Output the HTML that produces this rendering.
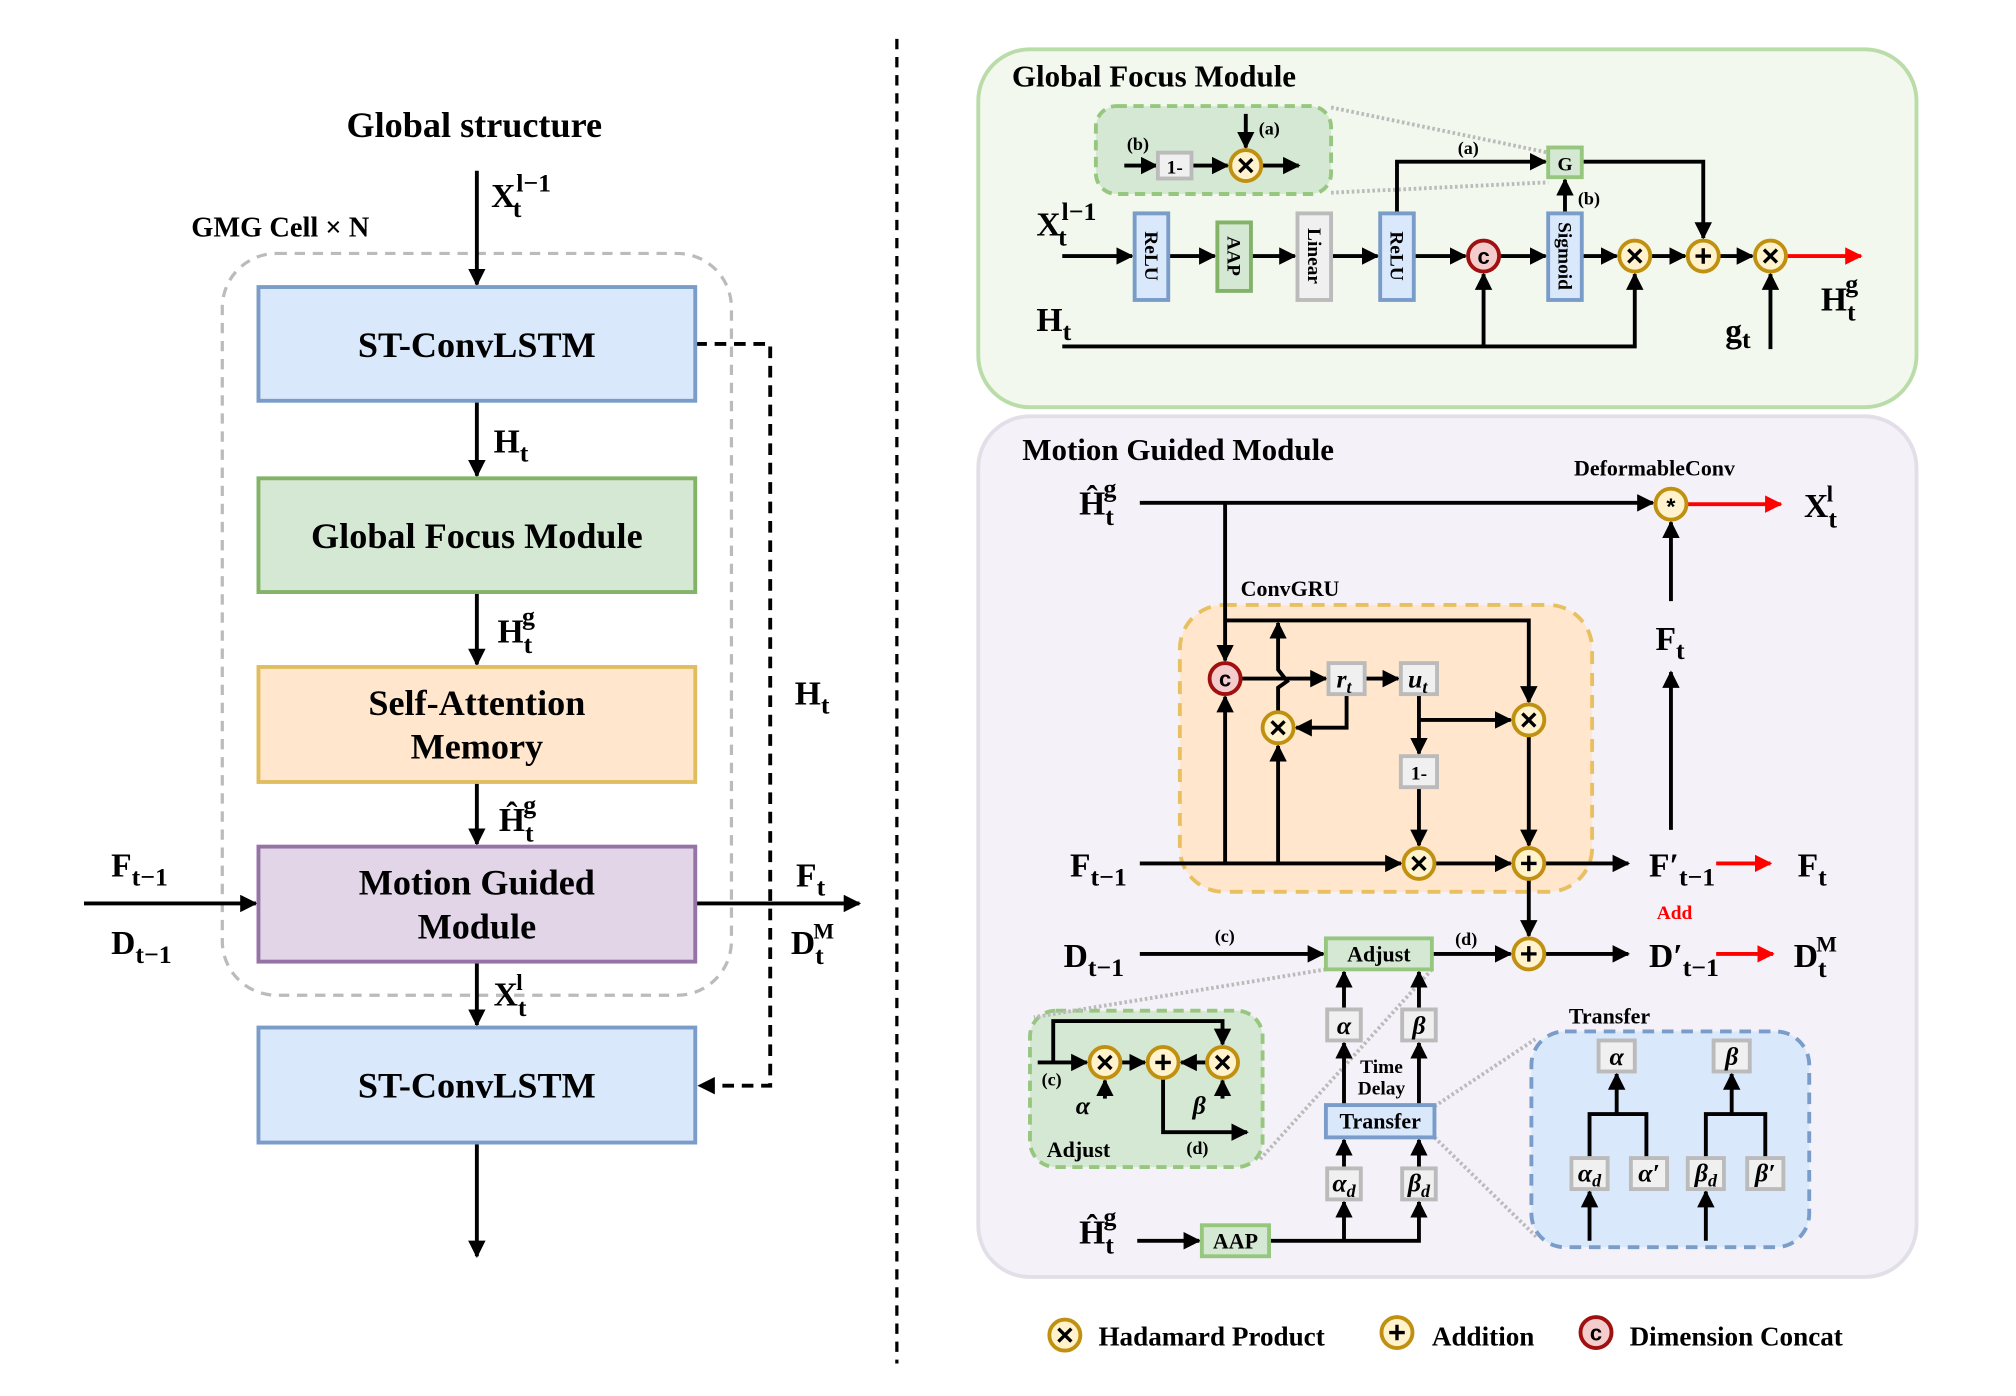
<!DOCTYPE html>
<html><head><meta charset="utf-8"><style>
html,body{margin:0;padding:0;background:#fff;}
svg{display:block;}
text{font-family:"Liberation Serif",serif;font-weight:bold;fill:#000;}
.s{font-family:"Liberation Sans",sans-serif;}
.i{font-style:italic;}
</style></head><body>
<svg width="2016" height="1396" viewBox="0 0 1560 1080" xmlns="http://www.w3.org/2000/svg">
<defs>
<marker id="a" viewBox="0 0 10 10" refX="9" refY="5" markerWidth="4.5" markerHeight="4.5" orient="auto-start-reverse" markerUnits="strokeWidth"><path d="M0,0L10,5L0,10z" fill="#000"/></marker>
<marker id="r" viewBox="0 0 10 10" refX="9" refY="5" markerWidth="4.5" markerHeight="4.5" orient="auto" markerUnits="strokeWidth"><path d="M0,0L10,5L0,10z" fill="#f00"/></marker>
<g id="mul"><circle r="12" fill="#fff2cc" stroke="#c09010" stroke-width="3"/><path d="M-5,-5L5,5M5,-5L-5,5" stroke="#000" stroke-width="2.6"/></g>
<g id="add"><circle r="12" fill="#fff2cc" stroke="#c09010" stroke-width="3"/><path d="M-6,0H6M0,-6V6" stroke="#000" stroke-width="2.6"/></g>
<g id="cat"><circle r="12" fill="#f4cccc" stroke="#a01010" stroke-width="3"/><text x="0" y="6" text-anchor="middle" font-size="17" class="s">c</text></g>
</defs>
<g stroke="#000" stroke-width="3" fill="none">
<!-- LEFT -->
<line x1="694" y1="30" x2="694" y2="1055" stroke-dasharray="8,6" stroke-width="2.5"/>
<rect x="172" y="196" width="394" height="574" rx="42" stroke="#bbb" stroke-width="2.5" stroke-dasharray="8,6"/>
<line x1="369" y1="132" x2="369" y2="220" marker-end="url(#a)"/>
<line x1="369" y1="310" x2="369" y2="368" marker-end="url(#a)"/>
<line x1="369" y1="458" x2="369" y2="514" marker-end="url(#a)"/>
<line x1="369" y1="605" x2="369" y2="653" marker-end="url(#a)"/>
<line x1="369" y1="744" x2="369" y2="793" marker-end="url(#a)"/>
<line x1="369" y1="884" x2="369" y2="972" marker-end="url(#a)"/>
<polyline points="538,266 596,266 596,840 541,840" stroke-dasharray="9,6" marker-end="url(#a)"/>
<line x1="65" y1="699" x2="198" y2="699" marker-end="url(#a)"/>
<line x1="538" y1="699" x2="665" y2="699" marker-end="url(#a)"/>
</g>
<rect x="200" y="222" width="338" height="88" fill="#dae8fc" stroke="#7a9cc8" stroke-width="3"/>
<rect x="200" y="370" width="338" height="88" fill="#d5e8d4" stroke="#82b366" stroke-width="3"/>
<rect x="200" y="516" width="338" height="89" fill="#ffe6cc" stroke="#e0be60" stroke-width="3"/>
<rect x="200" y="655" width="338" height="89" fill="#e1d5e7" stroke="#9673a6" stroke-width="3"/>
<rect x="200" y="795" width="338" height="89" fill="#dae8fc" stroke="#7a9cc8" stroke-width="3"/>
<g font-size="28" text-anchor="middle">
<text x="367" y="106">Global structure</text>
<text x="369" y="276">ST-ConvLSTM</text>
<text x="369" y="424">Global Focus Module</text>
<text x="369" y="553">Self-Attention</text><text x="369" y="587">Memory</text>
<text x="369" y="692">Motion Guided</text><text x="369" y="726">Module</text>
<text x="369" y="849">ST-ConvLSTM</text>
</g>
<text x="148" y="183" font-size="22">GMG Cell × N</text>
<g font-size="26">
<text x="380" y="160">X<tspan font-size="20" dy="8" dx="-2">t</tspan><tspan font-size="20" dy="-20" dx="-4">l−1</tspan></text>
<text x="382" y="350">H<tspan font-size="20" dy="7">t</tspan></text>
<text x="385" y="497">H<tspan font-size="20" dy="8">t</tspan><tspan font-size="20" dy="-22" dx="-8">g</tspan></text>
<text x="386" y="643">Ĥ<tspan font-size="20" dy="8">t</tspan><tspan font-size="20" dy="-22" dx="-8">g</tspan></text>
<text x="382" y="778">X<tspan font-size="20" dy="8">t</tspan><tspan font-size="18" dy="-20" dx="-8">l</tspan></text>
<text x="615" y="545">H<tspan font-size="20" dy="7">t</tspan></text>
<text x="86" y="678">F<tspan font-size="20" dy="7">t−1</tspan></text>
<text x="86" y="738">D<tspan font-size="20" dy="7">t−1</tspan></text>
<text x="616" y="686">F<tspan font-size="20" dy="7">t</tspan></text>
<text x="612" y="738">D<tspan font-size="20" dy="8">t</tspan><tspan font-size="17" dy="-20" dx="-8">M</tspan></text>
</g>

<!-- GFM -->
<rect x="757" y="38" width="726" height="277" rx="40" fill="#f2f8ee" stroke="#b9dca8" stroke-width="3"/>
<text x="783" y="67" font-size="24">Global Focus Module</text>
<rect x="848" y="82" width="182" height="68" rx="16" fill="#d5e8d4" stroke="#97c77f" stroke-width="3" stroke-dasharray="8,5"/>
<g stroke="#bbb" stroke-width="3" stroke-dasharray="2,2"><line x1="1030" y1="83" x2="1198" y2="118"/><line x1="1030" y1="149" x2="1198" y2="141"/></g>
<g stroke="#000" stroke-width="3" fill="none">
<line x1="870" y1="128" x2="895" y2="128" marker-end="url(#a)"/>
<line x1="922" y1="128" x2="950" y2="128" marker-end="url(#a)"/>
<line x1="976" y1="128" x2="1005" y2="128" marker-end="url(#a)"/>
<line x1="964" y1="88" x2="964" y2="114" marker-end="url(#a)"/>
<line x1="822" y1="198" x2="876" y2="198" marker-end="url(#a)"/>
<line x1="904" y1="198" x2="940" y2="198" marker-end="url(#a)"/>
<line x1="968" y1="198" x2="1002" y2="198" marker-end="url(#a)"/>
<line x1="1030" y1="198" x2="1066" y2="198" marker-end="url(#a)"/>
<line x1="1094" y1="198" x2="1134" y2="198" marker-end="url(#a)"/>
<line x1="1160" y1="198" x2="1196" y2="198" marker-end="url(#a)"/>
<line x1="1224" y1="198" x2="1251" y2="198" marker-end="url(#a)"/>
<line x1="1277" y1="198" x2="1304" y2="198" marker-end="url(#a)"/>
<line x1="1330" y1="198" x2="1356" y2="198" marker-end="url(#a)"/>
<line x1="1382" y1="198" x2="1440" y2="198" stroke="#f00" marker-end="url(#r)"/>
<polyline points="822,268 1265,268 1265,212" marker-end="url(#a)"/>
<line x1="1148" y1="268" x2="1148" y2="212" marker-end="url(#a)"/>
<line x1="1370" y1="270" x2="1370" y2="212" marker-end="url(#a)"/>
<polyline points="1081,165 1081,125 1196,125" marker-end="url(#a)"/>
<polyline points="1224,125 1318,125 1318,184" marker-end="url(#a)"/>
<line x1="1211" y1="165" x2="1211" y2="139" marker-end="url(#a)"/>
</g>
<rect x="896" y="118" width="26" height="20" fill="#f0f0f0" stroke="#bbb" stroke-width="3"/>
<text x="909" y="134" font-size="15" text-anchor="middle">1-</text>
<use href="#mul" x="964" y="128"/>
<text x="872" y="116" font-size="14">(b)</text><text x="974" y="104" font-size="14">(a)</text>
<rect x="878" y="165" width="26" height="67" fill="#dae8fc" stroke="#7a9cc8" stroke-width="3"/>
<rect x="942" y="172" width="26" height="53" fill="#d5e8d4" stroke="#82b366" stroke-width="3"/>
<rect x="1004" y="165" width="26" height="67" fill="#f0f0f0" stroke="#bbb" stroke-width="3"/>
<rect x="1068" y="165" width="26" height="67" fill="#dae8fc" stroke="#7a9cc8" stroke-width="3"/>
<rect x="1198" y="165" width="26" height="67" fill="#dae8fc" stroke="#7a9cc8" stroke-width="3"/>
<rect x="1198" y="114" width="26" height="23" fill="#d5e8d4" stroke="#97c77f" stroke-width="3"/>
<text x="1211" y="132" font-size="15" text-anchor="middle">G</text>
<g font-size="15" text-anchor="middle">
<text transform="translate(886,198) rotate(90)">ReLU</text>
<text transform="translate(950,198) rotate(90)">AAP</text>
<text transform="translate(1012,198) rotate(90)">Linear</text>
<text transform="translate(1076,198) rotate(90)">ReLU</text>
<text transform="translate(1206,198) rotate(90)">Sigmoid</text>
</g>
<use href="#cat" x="1148" y="198"/><use href="#mul" x="1265" y="198"/><use href="#add" x="1318" y="198"/><use href="#mul" x="1370" y="198"/>
<text x="1128" y="119" font-size="14">(a)</text><text x="1221" y="158" font-size="14">(b)</text>
<g font-size="26">
<text x="802" y="182">X<tspan font-size="20" dy="8" dx="-2">t</tspan><tspan font-size="20" dy="-20" dx="-4">l−1</tspan></text>
<text x="802" y="256">H<tspan font-size="20" dy="7">t</tspan></text>
<text x="1335" y="265">g<tspan font-size="20" dy="4">t</tspan></text>
<text x="1409" y="240">H<tspan font-size="20" dy="8">t</tspan><tspan font-size="20" dy="-22" dx="-8">g</tspan></text>
</g>

<!-- MGM -->
<rect x="757" y="322" width="726" height="666" rx="40" fill="#f4f2f8" stroke="#e2dfe8" stroke-width="3"/>
<text x="791" y="356" font-size="24">Motion Guided Module</text>
<rect x="913" y="468" width="319" height="222" rx="34" fill="#ffe6cc" stroke="#e8c060" stroke-width="3" stroke-dasharray="10,7"/>
<text x="960" y="461" font-size="17">ConvGRU</text>
<text x="1218" y="368" font-size="17">DeformableConv</text>
<rect x="797" y="782" width="180" height="121" rx="20" fill="#d5e8d4" stroke="#97c77f" stroke-width="3" stroke-dasharray="8,5"/>
<rect x="1185" y="798" width="215" height="167" rx="26" fill="#dae8fc" stroke="#7a9cc8" stroke-width="3" stroke-dasharray="9,6"/>
<g stroke="#bbb" stroke-width="3" stroke-dasharray="2,2">
<line x1="1026" y1="750" x2="800" y2="787"/><line x1="1108" y1="750" x2="975" y2="897"/>
<line x1="1110" y1="856" x2="1188" y2="804"/><line x1="1110" y1="880" x2="1190" y2="958"/>
</g>
<g stroke="#000" stroke-width="3" fill="none">
<line x1="882" y1="389" x2="1279" y2="389" marker-end="url(#a)"/>
<line x1="1306" y1="390" x2="1378" y2="390" stroke="#f00" marker-end="url(#r)"/>
<line x1="1293" y1="465" x2="1293" y2="404" marker-end="url(#a)"/>
<line x1="1293" y1="642" x2="1293" y2="520" marker-end="url(#a)"/>
<line x1="948" y1="389" x2="948" y2="511" marker-end="url(#a)"/>
<polyline points="948,480 1183,480 1183,543" marker-end="url(#a)"/>
<line x1="960" y1="525" x2="1026" y2="525" marker-end="url(#a)"/>
<line x1="1056" y1="525" x2="1082" y2="525" marker-end="url(#a)"/>
<path d="M989,551 V532 L996,527 L989,518 V482" marker-end="url(#a)"/>
<polyline points="1042,537 1042,563 1003,563" marker-end="url(#a)"/>
<line x1="1098" y1="537" x2="1098" y2="583" marker-end="url(#a)"/>
<line x1="1098" y1="557" x2="1169" y2="557" marker-end="url(#a)"/>
<line x1="1098" y1="609" x2="1098" y2="654" marker-end="url(#a)"/>
<line x1="1183" y1="569" x2="1183" y2="654" marker-end="url(#a)"/>
<line x1="882" y1="668" x2="1084" y2="668" marker-end="url(#a)"/>
<line x1="1110" y1="668" x2="1169" y2="668" marker-end="url(#a)"/>
<line x1="1195" y1="668" x2="1260" y2="668" marker-end="url(#a)"/>
<line x1="948" y1="668" x2="948" y2="539" marker-end="url(#a)"/>
<line x1="989" y1="668" x2="989" y2="577" marker-end="url(#a)"/>
<line x1="1183" y1="680" x2="1183" y2="724" marker-end="url(#a)"/>
<line x1="1328" y1="668" x2="1370" y2="668" stroke="#f00" marker-end="url(#r)"/>
<line x1="1328" y1="738" x2="1372" y2="738" stroke="#f00" marker-end="url(#r)"/>
<line x1="882" y1="738" x2="1024" y2="738" marker-end="url(#a)"/>
<line x1="1108" y1="738" x2="1169" y2="738" marker-end="url(#a)"/>
<line x1="1195" y1="738" x2="1260" y2="738" marker-end="url(#a)"/>
<line x1="1040" y1="781" x2="1040" y2="752" marker-end="url(#a)"/>
<line x1="1098" y1="781" x2="1098" y2="752" marker-end="url(#a)"/>
<line x1="1040" y1="855" x2="1040" y2="807" marker-end="url(#a)"/>
<line x1="1098" y1="855" x2="1098" y2="807" marker-end="url(#a)"/>
<line x1="1040" y1="904" x2="1040" y2="882" marker-end="url(#a)"/>
<line x1="1098" y1="904" x2="1098" y2="882" marker-end="url(#a)"/>
<line x1="880" y1="960" x2="928" y2="960" marker-end="url(#a)"/>
<polyline points="982,960 1098,960 1098,930" marker-end="url(#a)"/>
<line x1="1040" y1="960" x2="1040" y2="930" marker-end="url(#a)"/>
<!-- adjust inset -->
<line x1="803" y1="822" x2="841" y2="822" marker-end="url(#a)"/>
<polyline points="815,822 815,790 946,790 946,808" marker-end="url(#a)"/>
<line x1="867" y1="822" x2="886" y2="822" marker-end="url(#a)"/>
<line x1="934" y1="822" x2="914" y2="822" marker-end="url(#a)"/>
<line x1="855" y1="850" x2="855" y2="836" marker-end="url(#a)"/>
<line x1="946" y1="850" x2="946" y2="836" marker-end="url(#a)"/>
<polyline points="900,834 900,876 965,876" marker-end="url(#a)"/>
<!-- transfer inset -->
<polyline points="1230,896 1230,862 1274,862 1274,896"/>
<line x1="1251" y1="862" x2="1251" y2="831" marker-end="url(#a)"/>
<polyline points="1320,896 1320,862 1366,862 1366,896"/>
<line x1="1340" y1="862" x2="1340" y2="831" marker-end="url(#a)"/>
<line x1="1230" y1="960" x2="1230" y2="922" marker-end="url(#a)"/>
<line x1="1320" y1="960" x2="1320" y2="922" marker-end="url(#a)"/>
</g>
<circle cx="1293" cy="390" r="12" fill="#fff2cc" stroke="#c09010" stroke-width="3"/><text x="1293" y="398" font-size="18" text-anchor="middle" class="s">*</text>
<use href="#cat" x="948" y="525"/><use href="#mul" x="989" y="563"/><use href="#mul" x="1183" y="557"/>
<use href="#mul" x="1098" y="668"/><use href="#add" x="1183" y="668"/><use href="#add" x="1183" y="738"/>
<use href="#mul" x="855" y="822"/><use href="#add" x="900" y="822"/><use href="#mul" x="946" y="822"/>
<g fill="#f0f0f0" stroke="#bbb" stroke-width="3">
<rect x="1028" y="513" width="28" height="24"/><rect x="1084" y="513" width="28" height="24"/>
<rect x="1084" y="585" width="28" height="24"/>
<rect x="1027" y="781" width="26" height="24"/><rect x="1085" y="781" width="26" height="24"/>
<rect x="1027" y="904" width="26" height="24"/><rect x="1085" y="904" width="26" height="24"/>
<rect x="1237" y="805" width="28" height="24"/><rect x="1326" y="805" width="28" height="24"/>
<rect x="1216" y="896" width="28" height="24"/><rect x="1262" y="896" width="28" height="24"/>
<rect x="1306" y="896" width="28" height="24"/><rect x="1352" y="896" width="28" height="24"/>
</g>
<rect x="1026" y="726" width="82" height="24" fill="#d5e8d4" stroke="#97c77f" stroke-width="3"/>
<rect x="1026" y="855" width="84" height="25" fill="#dae8fc" stroke="#7a9cc8" stroke-width="3"/>
<rect x="930" y="948" width="52" height="24" fill="#d5e8d4" stroke="#97c77f" stroke-width="3"/>
<g font-size="17" text-anchor="middle">
<text x="1067" y="744">Adjust</text><text x="1068" y="873">Transfer</text><text x="956" y="966">AAP</text>
<text x="1098" y="603" font-size="15">1-</text>
<text x="1069" y="830" font-size="15">Time</text><text x="1069" y="847" font-size="15">Delay</text>
</g>
<g font-size="20" class="i" text-anchor="middle">
<text x="1040" y="532">r<tspan font-size="14" dy="4">t</tspan></text>
<text x="1097" y="532">u<tspan font-size="14" dy="4">t</tspan></text>
<text x="1040" y="800">α</text><text x="1098" y="800">β</text>
<text x="1040" y="922">α<tspan font-size="14" dy="4">d</tspan></text>
<text x="1098" y="922">β<tspan font-size="14" dy="4">d</tspan></text>
<text x="1251" y="824">α</text><text x="1340" y="824">β</text>
<text x="1230" y="914">α<tspan font-size="14" dy="4">d</tspan></text>
<text x="1276" y="914">α′</text>
<text x="1320" y="914">β<tspan font-size="14" dy="4">d</tspan></text>
<text x="1366" y="914">β′</text>
<text x="838" y="862">α</text><text x="928" y="862">β</text>
</g>
<g font-size="14"><text x="940" y="729">(c)</text><text x="1126" y="731">(d)</text><text x="806" y="840">(c)</text><text x="918" y="893">(d)</text></g>
<text x="810" y="895" font-size="17">Adjust</text>
<text x="1214" y="792" font-size="17">Transfer</text>
<text x="1282" y="711" font-size="15" fill="#f00" style="fill:#f00">Add</text>
<g font-size="26">
<text x="835" y="398">Ĥ<tspan font-size="20" dy="8">t</tspan><tspan font-size="20" dy="-22" dx="-8">g</tspan></text>
<text x="1396" y="400">X<tspan font-size="20" dy="8">t</tspan><tspan font-size="18" dy="-20" dx="-8">l</tspan></text>
<text x="1281" y="503">F<tspan font-size="20" dy="7">t</tspan></text>
<text x="828" y="678">F<tspan font-size="20" dy="7">t−1</tspan></text>
<text x="1276" y="678">F′<tspan font-size="20" dy="7">t−1</tspan></text>
<text x="1391" y="678">F<tspan font-size="20" dy="7">t</tspan></text>
<text x="823" y="748">D<tspan font-size="20" dy="7">t−1</tspan></text>
<text x="1276" y="748">D′<tspan font-size="20" dy="7">t−1</tspan></text>
<text x="1388" y="748">D<tspan font-size="20" dy="8">t</tspan><tspan font-size="17" dy="-20" dx="-8">M</tspan></text>
<text x="835" y="962">Ĥ<tspan font-size="20" dy="8">t</tspan><tspan font-size="20" dy="-22" dx="-8">g</tspan></text>
</g>

<!-- legend -->
<use href="#mul" x="824" y="1033"/><use href="#add" x="1081" y="1031"/><use href="#cat" x="1235" y="1031"/>
<g font-size="21"><text x="850" y="1041">Hadamard Product</text><text x="1108" y="1041">Addition</text><text x="1261" y="1041">Dimension Concat</text></g>
</svg>
</body></html>
